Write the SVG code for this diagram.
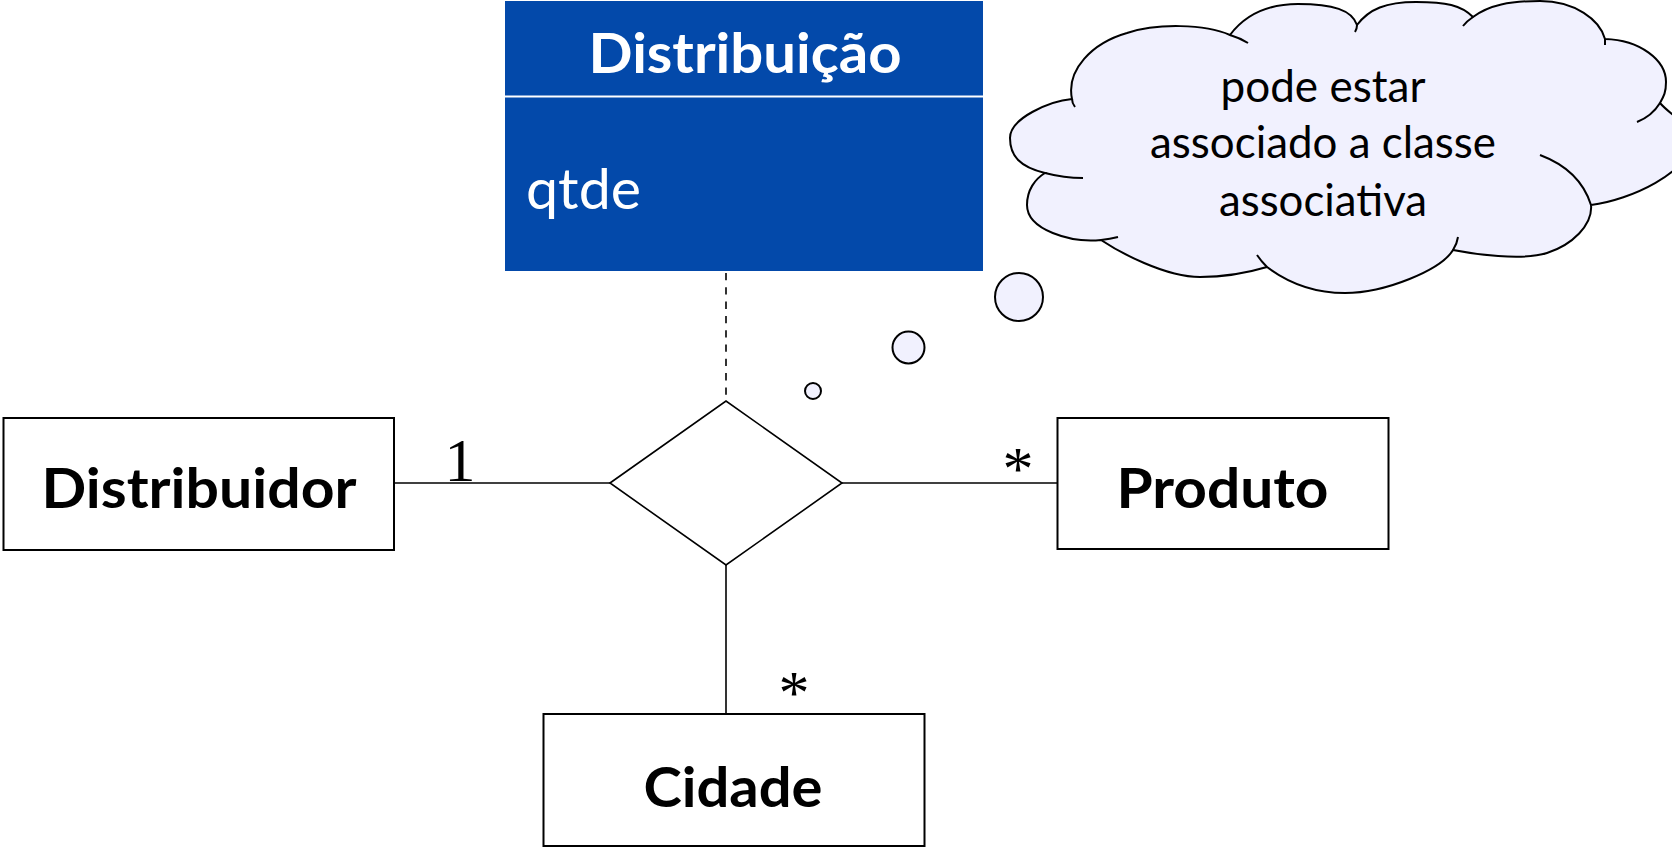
<svg xmlns="http://www.w3.org/2000/svg" width="1672" height="850" viewBox="0 0 1672 850">
<style>
.box{fill:#fff;stroke:#000;stroke-width:2}
.lbl{font-family:Lato,"Liberation Sans",sans-serif;font-weight:bold;font-size:55px;fill:#000;text-anchor:middle}
.conn{stroke:#000;stroke-width:1.6;fill:none}
.mult{font-family:"Liberation Serif","Times New Roman",serif;font-size:62px;fill:#000;text-anchor:middle}
.cloud{fill:#F1F1FE;stroke:#000;stroke-width:2}
.ctext{font-family:Lato,"Liberation Sans",sans-serif;font-size:44px;fill:#000;text-anchor:middle}
.wtext{font-family:Lato,"Liberation Sans",sans-serif;fill:#fff}
</style>
<rect width="1672" height="850" fill="#fff"/>
<g id="connectors">
<line class="conn" x1="394" y1="483" x2="610" y2="483"/>
<line class="conn" x1="842" y1="483" x2="1057" y2="483"/>
<line class="conn" x1="726" y1="565" x2="726" y2="714"/>
<line class="conn" x1="726" y1="273" x2="726" y2="401" stroke-width="2" stroke-dasharray="7.3 7"/>
<text class="mult" x="460" y="481">1</text>
<text class="mult" x="1018" y="489">*</text>
<text class="mult" x="794" y="713">*</text>
</g>
<g id="distribuicao">
<rect x="505" y="1" width="478" height="270" fill="#0349AA"/>
<line x1="505" y1="96.5" x2="983" y2="96.5" stroke="#fff" stroke-width="2"/>
<text class="wtext" x="745" y="73" font-size="56" font-weight="bold" text-anchor="middle" textLength="313" lengthAdjust="spacingAndGlyphs">Distribuição</text>
<text class="wtext" x="526" y="209" font-size="57" textLength="115" lengthAdjust="spacingAndGlyphs">qtde</text>
</g>
<g id="associacao">
<polygon points="610,483 726,401 842,483 726,565" fill="#fff" stroke="#000" stroke-width="1.6"/>
</g>
<g id="distribuidor">
<rect class="box" x="3.5" y="418" width="390.5" height="132"/>
<text class="lbl" x="199" y="508" textLength="315" lengthAdjust="spacingAndGlyphs">Distribuidor</text>
</g>
<g id="produto">
<rect class="box" x="1057.5" y="418" width="331" height="131"/>
<text class="lbl" x="1222.5" y="508" textLength="212" lengthAdjust="spacingAndGlyphs">Produto</text>
</g>
<g id="cidade">
<rect class="box" x="543.5" y="714" width="381" height="132"/>
<text class="lbl" x="733" y="807" textLength="179" lengthAdjust="spacingAndGlyphs">Cidade</text>
</g>
<g id="nota">
<circle class="cloud" cx="813" cy="391" r="8"/>
<circle class="cloud" cx="908.5" cy="347.5" r="16"/>
<circle class="cloud" cx="1019" cy="297" r="24"/>
<path class="cloud" d="M1072,99 C1066,70 1092,43 1127,33 C1157,23 1205,24 1230,35 C1242,19 1263,4 1298,4 C1333,4 1352,10 1357,25 C1369,9 1386,2 1416,2 C1446,2 1461,5 1473,17 C1489,5 1510,1 1540,1 C1575,1 1600,20 1605,39 C1640,40 1666,60 1666,82 C1666,92 1664,96 1660,103 C1672,117 1690,122 1690,142 C1690,172 1631,200 1591,205 C1593,225 1572,245 1547,253 C1522,261 1473,254 1453,250 C1441,270 1385,293 1345,293 C1310,293 1283,279 1267,267 C1247,273 1225,277 1200,277 C1165,277 1119,252 1101,240 C1071,243 1027,230 1027,205 C1027,190 1035,179 1045,173 C1020,167 1010,156 1010,138 C1010,118 1050,101 1072,99 Z"/>
<path fill="none" stroke="#000" stroke-width="2" d="M1230,35 Q1240,38 1248,43 M1357,25 Q1357,29 1355,32 M1463,26 Q1467,21 1473,17 M1605,39 L1605,45 M1660,103 Q1652,116 1637,122 M1540,155 Q1580,170 1591,205 M1458,237 Q1457,244 1453,250 M1267,267 Q1261,261 1257,255 M1101,240 Q1110,239 1118,237 M1045,173 Q1064,178 1083,178 M1075,107 Q1072,103 1072,99"/>
<text class="ctext" x="1323" y="101.5" textLength="205" lengthAdjust="spacingAndGlyphs">pode estar</text>
<text class="ctext" x="1323" y="158" textLength="346" lengthAdjust="spacingAndGlyphs">associado a classe</text>
<text class="ctext" x="1323" y="215.5" textLength="208" lengthAdjust="spacingAndGlyphs">associativa</text>
</g>
</svg>
